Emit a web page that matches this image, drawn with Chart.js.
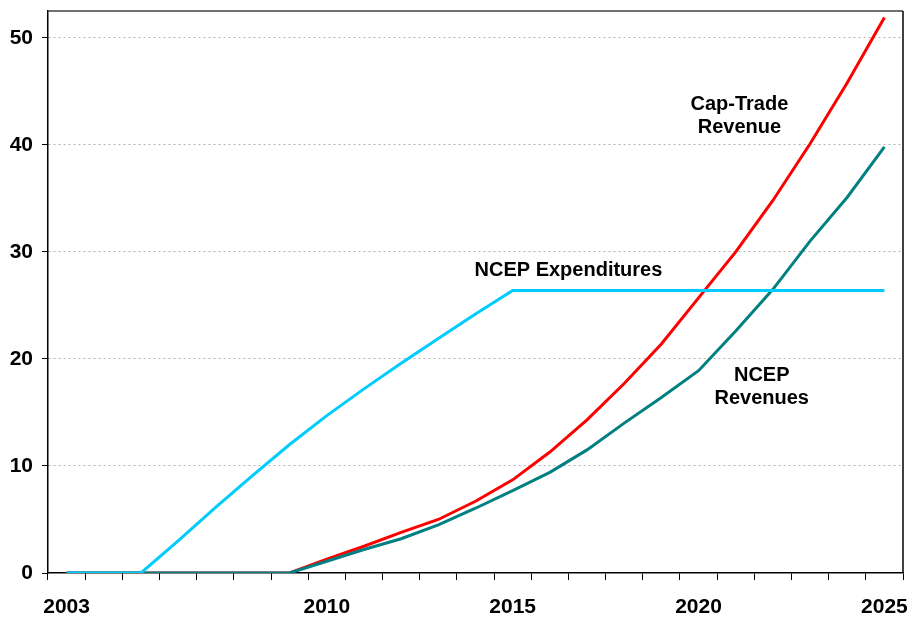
<!DOCTYPE html>
<html>
<head>
<meta charset="utf-8">
<script src="https://cdn.jsdelivr.net/npm/chart.js@4.4.1/dist/chart.umd.min.js"></script>
<style>
  html, body { margin: 0; padding: 0; background: #ffffff; }
  #wrap { width: 911px; height: 618px; position: relative; }
</style>
</head>
<body>
<div id="wrap"><canvas id="myChart"></canvas></div>
<script>
// years on the category axis, only some of them get a label
const years = [2003, 2004, 2005, 2006, 2007, 2008, 2009, 2010, 2011, 2012, 2013, 2014,
               2015, 2016, 2017, 2018, 2019, 2020, 2021, 2022, 2023, 2024, 2025];
const shownYears = [2003, 2010, 2015, 2020, 2025];

const ncepExpenditures = [0, 0, 0, 3.0, 6.1, 9.1, 12.0, 14.7, 17.2, 19.6, 21.9, 24.2,
                          26.4, 26.4, 26.4, 26.4, 26.4, 26.4, 26.4, 26.4, 26.4, 26.4, 26.4];
const ncepRevenues = [0, 0, 0, 0, 0, 0, 0, 1.1, 2.2, 3.2, 4.5, 6.05,
                      7.7, 9.4, 11.5, 14.0, 16.4, 18.9, 22.6, 26.5, 31.0, 35.1, 39.8];
const capTradeRevenue = [0, 0, 0, 0, 0, 0, 0, 1.3, 2.5, 3.8, 5.0, 6.7,
                         8.7, 11.3, 14.3, 17.7, 21.4, 25.7, 30.0, 34.8, 40.1, 45.8, 51.9];

// in-chart captions: text lines, category index, baseline value of each line
const captions = [
  { lines: ['Cap-Trade', 'Revenue'], x: 18.1, y: [43.25, 41.07] },
  { lines: ['NCEP Expenditures'], x: 13.5, y: [27.74] },
  { lines: ['NCEP', 'Revenues'], x: 18.7, y: [17.93, 15.76] }
];

const FONT = 'Liberation Sans, Arial, Helvetica, sans-serif';

const captionPlugin = {
  id: 'captions',
  afterDatasetsDraw(chart) {
    const ctx = chart.ctx;
    const xs = chart.scales.x, ys = chart.scales.y;
    ctx.save();
    ctx.font = 'bold 20px ' + FONT;
    ctx.fillStyle = '#000000';
    ctx.textAlign = 'center';
    ctx.textBaseline = 'alphabetic';
    captions.forEach(c => {
      c.lines.forEach((t, i) => {
        ctx.fillText(t, xs.getPixelForValue(c.x), ys.getPixelForValue(c.y[i]));
      });
    });
    ctx.restore();
  }
};

const framePlugin = {
  id: 'frame',
  afterDraw(chart) {
    const a = chart.chartArea, ctx = chart.ctx;
    ctx.save();
    ctx.lineWidth = 1.5;
    ctx.strokeStyle = '#404040';
    ctx.beginPath();
    ctx.moveTo(a.left, a.top);
    ctx.lineTo(a.right, a.top);
    ctx.stroke();
    ctx.strokeStyle = '#000000';
    ctx.beginPath();
    ctx.moveTo(a.right, a.top);
    ctx.lineTo(a.right, a.bottom);
    ctx.stroke();
    ctx.restore();
  }
};

const ctx = document.getElementById('myChart').getContext('2d');
new Chart(ctx, {
  type: 'line',
  data: {
    labels: years,
    datasets: [
      { label: 'NCEP Expenditures', data: ncepExpenditures, borderColor: '#00CCFF' },
      { label: 'NCEP Revenues', data: ncepRevenues, borderColor: '#008080' },
      { label: 'Cap-Trade Revenue', data: capTradeRevenue, borderColor: '#FF0000' }
    ]
  },
  options: {
    responsive: true,
    maintainAspectRatio: false,
    animation: false,
    layout: { padding: { top: 11, right: 8, left: 0, bottom: 0 } },
    elements: {
      line: { borderWidth: 3, tension: 0, fill: false },
      point: { radius: 0, hoverRadius: 0 }
    },
    plugins: {
      legend: { display: false },
      tooltip: { enabled: false }
    },
    scales: {
      x: {
        type: 'category',
        offset: true,
        afterFit(scale) {
          scale.height = 45;
          scale.paddingLeft = 0;
          scale.paddingRight = 0;
        },
        grid: {
          offset: true,
          drawOnChartArea: false,
          drawTicks: true,
          tickLength: 7,
          tickColor: '#000000',
          tickWidth: 1
        },
        border: { display: true, color: '#000000', width: 1.5 },
        ticks: {
          autoSkip: false,
          maxRotation: 0,
          minRotation: 0,
          padding: 15,
          color: '#000000',
          font: { family: FONT, size: 21, weight: 'bold' },
          callback(value) {
            const yr = this.getLabelForValue(value);
            return shownYears.includes(Number(yr)) ? String(yr) : '';
          }
        }
      },
      y: {
        min: 0,
        max: 52.5,
        afterFit(scale) {
          scale.width = 48;
          scale.paddingTop = 0;
          scale.paddingBottom = 0;
        },
        grid: {
          color: c => (c.tick && c.tick.value === 0) ? 'rgba(0,0,0,0)' : '#b3b3b3',
          lineWidth: 1,
          drawTicks: true,
          tickLength: 6,
          tickColor: '#000000',
          tickWidth: 1,
          tickBorderDash: []
        },
        border: { display: true, color: '#000000', width: 1.5, dash: [2, 3] },
        ticks: {
          stepSize: 10,
          includeBounds: false,
          padding: 9,
          color: '#000000',
          font: { family: FONT, size: 21, weight: 'bold', lineHeight: 1 }
        }
      }
    }
  },
  plugins: [captionPlugin, framePlugin]
});
</script>
</body>
</html>
